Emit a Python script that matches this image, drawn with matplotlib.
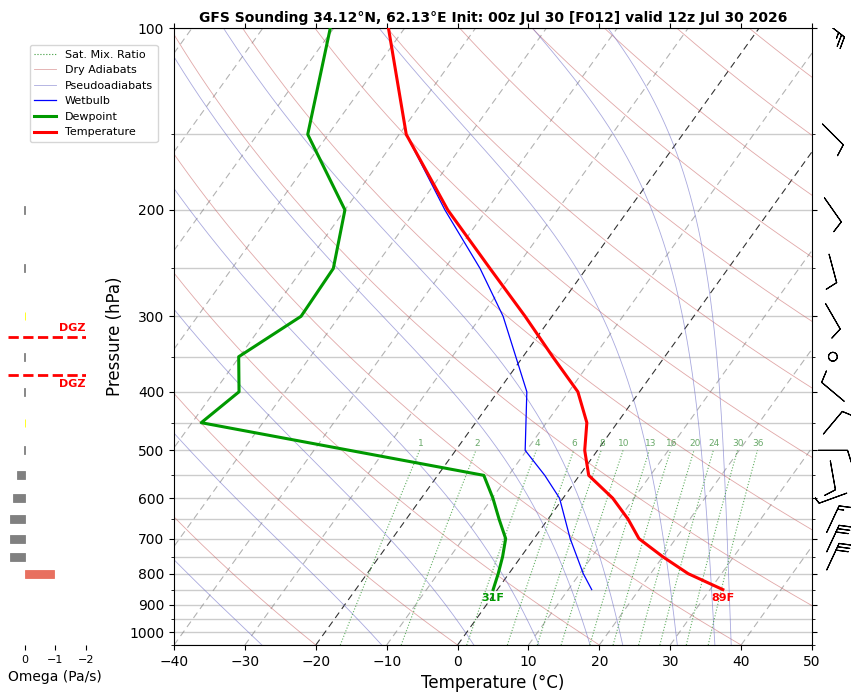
import matplotlib.pyplot as plt
import numpy as np

# sounding data (hPa, degC)
pres = [100, 150, 200, 250, 300, 350, 400, 450, 500, 550, 600, 650, 700, 750, 800, 850]
temp = [-72.3, -59.0, -45.5, -33.6, -23.8, -15.8, -8.7, -4.3, -1.8, 1.3, 7.0, 11.3, 14.8, 20.0, 25.3, 31.8]
dewp = [-80.5, -72.9, -60.0, -55.7, -55.4, -60.1, -56.5, -58.7, None, -13.5, -9.9, -6.9, -4.0, -2.6, -1.5, -0.6]
wb_p = [100, 150, 200, 250, 300, 400, 500, 550, 600, 700, 800, 850]
wetb = [-72.3, -59.0, -45.9, -35.0, -26.9, -15.9, -10.2, -4.9, -0.5, 5.1, 10.5, 13.3]

# wind: direction (deg), speed (kt)
wind_p = [100, 150, 200, 250, 300, 350, 400, 450, 500, 550, 600, 650, 700, 750]
wdir = [128, 135, 145, 165, 150, 0, 310, 40, 90, 170, 250, 25, 25, 25]
wspd = [25, 10, 10, 10, 10, 0, 10, 10, 10, 10, 10, 15, 30, 30]

# omega (Pa/s)
om_p = [200, 250, 300, 350, 400, 450, 500, 550, 600, 650, 700, 750, 800]
omega = [0.02, 0.02, -0.02, 0.02, 0.02, -0.02, 0.02, 0.27, 0.39, 0.49, 0.49, 0.49, -0.94]
dgz = [325, 375]

mix_ratios = [1, 2, 4, 6, 8, 10, 13, 16, 20, 24, 30, 36]
moist_start = [-40.0, -27.6, -10.7, 2.3, 11.5, 18.7, 23.3, 31.0, 36.3, 38.6]

P0 = 1050.0
S = 26.6


def skew(t, p):
    return np.asarray(t, dtype=float) + S * np.log(P0 / np.asarray(p, dtype=float))


fig = plt.figure(figsize=(8.56, 6.95), dpi=100)
ax = fig.add_axes([0.2033, 0.0719, 0.7453, 0.8878])
ax.set_yscale('log')
ax.set_ylim(1050, 100)
ax.set_xlim(-40, 50)

pp = np.geomspace(1050, 100, 200)

# grid lines
for p in range(100, 1051, 50):
    ax.axhline(p, color='#cccccc', lw=1, zorder=0)

# isotherms
for t in range(-140, 60, 10):
    c, a = ('black', 0.8) if t in (-20, 0) else ('gray', 0.6)
    ax.plot(skew(np.full_like(pp, t), pp), pp, ls=(0, (6, 4)), color=c, lw=0.8, alpha=a, zorder=1)

# dry adiabats
for th in range(-80, 241, 20):
    tk = (th + 273.15) * (pp / 1050.0) ** 0.286 - 273.15
    ax.plot(skew(tk, pp), pp, color='#c86060', lw=0.6, alpha=0.55, zorder=1)


# moist adiabats
def esat(tc):
    return 6.112 * np.exp(17.67 * tc / (tc + 243.5))


def moist(t0):
    t, p = t0 + 273.15, 1050.0
    ps, ts = [p], [t]
    dp = -2.0
    while p > 100:
        es = esat(t - 273.15)
        rs = 0.622 * es / (p - es)
        num = 287.0 * t + 2.5e6 * rs
        den = 1004.0 + 2.5e6 ** 2 * rs * 0.622 / (287.0 * t ** 2)
        t += num / (p * den) * dp
        p += dp
        ps.append(p)
        ts.append(t)
    return np.array(ps), np.array(ts) - 273.15


for t0 in moist_start:
    mp, mt = moist(t0)
    ax.plot(skew(mt, mp), mp, color='#7070c8', lw=0.6, alpha=0.6, zorder=1)

# mixing ratio lines
pm = np.geomspace(1050, 500, 50)
for w in mix_ratios:
    e = w * pm / (622.0 + w)
    ln = np.log(e / 6.112)
    td = 243.5 * ln / (17.67 - ln)
    ax.plot(skew(td, pm), pm, color='#3a9a3a', ls=':', lw=0.8, alpha=0.8, zorder=1)
    e5 = w * 495 / (622.0 + w)
    l5 = np.log(e5 / 6.112)
    ax.text(skew(243.5 * l5 / (17.67 - l5), 495), 495, str(w), color='#5aa05a',
            fontsize=6.5, ha='center', va='bottom', alpha=0.9)

# profiles
pa = np.array(pres, dtype=float)
ax.plot(skew(temp, pa), pa, color='red', lw=2.2, zorder=5)
dmask = [d is not None for d in dewp]
dp_ = pa[dmask]
dv = np.array([d for d in dewp if d is not None])
ax.plot(skew(dv, dp_), dp_, color='#009900', lw=2.2, zorder=5)
ax.plot(skew(wetb, wb_p), wb_p, color='blue', lw=0.9, zorder=4)

tsfc_f = temp[-1] * 9 / 5 + 32
dsfc_f = dv[-1] * 9 / 5 + 32
ax.text(skew(temp[-1], pres[-1]), pres[-1] * 1.015, f"{tsfc_f:.0f}F", color='red',
        fontsize=8, fontweight='bold', ha='center', va='top')
ax.text(skew(dv[-1], pres[-1]), pres[-1] * 1.015, f"{dsfc_f:.0f}F", color='#009900',
        fontsize=8, fontweight='bold', ha='center', va='top')

major = list(range(100, 1001, 100))
ax.set_yticks(major)
ax.set_yticklabels([str(p) for p in major])
ax.set_yticks([p for p in range(150, 1051, 100)], minor=True)
ax.yaxis.set_minor_formatter(plt.NullFormatter())
ax.tick_params(axis='y', which='both', right=True, labelsize=10)
ax.tick_params(axis='x', top=True, labelsize=10)
ax.set_xticks(range(-40, 51, 10))
ax.set_xlabel('Temperature (°C)', fontsize=12)
ax.set_ylabel('Pressure (hPa)', fontsize=12)
ax.set_title('GFS Sounding 34.12°N, 62.13°E Init: 00z Jul 30 [F012] valid 12z Jul 30 2026',
             fontsize=10, fontweight='bold', pad=4)

# legend
handles = [
    plt.Line2D([], [], color='#3a9a3a', ls=':', lw=0.8),
    plt.Line2D([], [], color='#c86060', lw=0.6, alpha=0.55),
    plt.Line2D([], [], color='#7070c8', lw=0.6, alpha=0.6),
    plt.Line2D([], [], color='blue', lw=0.9),
    plt.Line2D([], [], color='#009900', lw=2.2),
    plt.Line2D([], [], color='red', lw=2.2),
]
labels = ['Sat. Mix. Ratio', 'Dry Adiabats', 'Pseudoadiabats', 'Wetbulb', 'Dewpoint', 'Temperature']
fig.legend(handles, labels, loc='upper left', bbox_to_anchor=(0.028, 0.943), fontsize=8)

# omega panel
ax_om = fig.add_axes([0.0093, 0.0719, 0.0911, 0.8878])
ax_om.set_yscale('log')
ax_om.set_ylim(1050, 100)
om_cols = ['#808080' if w >= 0 else ('yellow' if w > -0.1 else '#e87060') for w in omega]
ax_om.barh(om_p, omega, height=np.array(om_p) * 0.03, color=om_cols,
           edgecolor=om_cols, linewidth=0.6)
ax_om.set_xlim(0.55, -2.0)
ax_om.set_xticks([0, -1, -2])
ax_om.set_xticklabels(['0', '−1', '−2'])
ax_om.tick_params(axis='x', labelsize=8)
ax_om.set_yticks([])
ax_om.set_yticks([], minor=True)
for s in ax_om.spines.values():
    s.set_visible(False)
ax_om.set_xlabel('Omega (Pa/s)', fontsize=10)
ax_om.xaxis.set_label_coords(0.6, -0.04)
for i, p in enumerate(dgz):
    ax_om.axhline(p, color='red', ls='--', lw=2)
    ax_om.text(-2.0, p * (0.985 if i == 0 else 1.015), 'DGZ', color='red', fontsize=8,
               fontweight='bold', ha='right', va='bottom' if i == 0 else 'top')

# wind barbs
ax_w = fig.add_axes([0.952, 0.0719, 0.042, 0.8878])
ax_w.set_yscale('log')
ax_w.set_ylim(1050, 100)
ax_w.set_xlim(0, 1)
d = np.radians(wdir)
u = -np.array(wspd) * np.sin(d)
v = -np.array(wspd) * np.cos(d)
ax_w.barbs(np.full(len(wind_p), 0.5), wind_p, u, v, length=6.5, pivot='middle', lw=0.8)
ax_w.axis('off')

fig.savefig('out.png', dpi=100)
